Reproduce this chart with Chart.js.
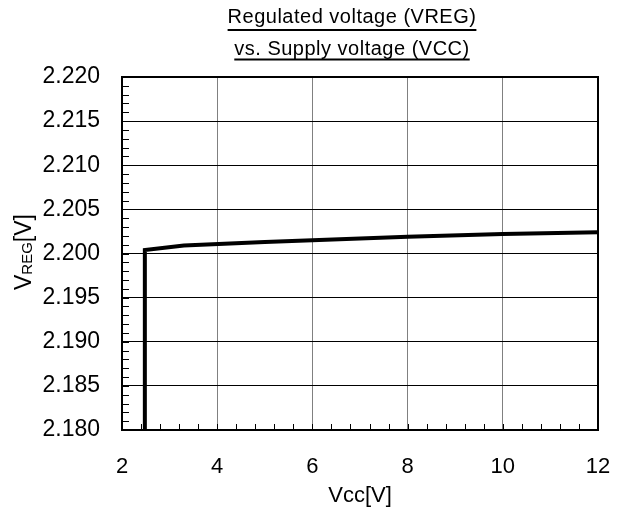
<!DOCTYPE html>
<html>
<head>
<meta charset="utf-8">
<script src="https://cdn.jsdelivr.net/npm/chart.js@4"></script>
<style>
    html, body { margin: 0; padding: 0; background: #fff; }
    #wrap { width: 628px; height: 508px; }
</style>
</head>
<body>
<div id="wrap"><canvas id="vregChart"></canvas></div>
<script>
// Supply voltage (V) and regulated voltage (V)
const vccValues = [2.48, 2.48, 3.3, 5.0, 8.0, 10.0, 12.0];
const vregValues = [2.175, 2.2004, 2.2009, 2.2013, 2.2019, 2.2022, 2.2024];

const titleLines = ['Regulated voltage (VREG)', 'vs. Supply voltage (VCC)'];
const xTitle = 'Vcc[V]';

const FONT = '"Liberation Sans", Arial, sans-serif';

// Draws the frame, underlined title, axis titles and the inside minor ticks
const decorPlugin = {
    id: 'decor',
    afterDraw(chart) {
        const c = chart.ctx;
        const area = chart.chartArea;
        const xs = chart.scales.x;
        const ys = chart.scales.y;
        const mid = (area.left + area.right) / 2;

        c.save();
        c.fillStyle = '#000';
        c.strokeStyle = '#000';

        // plot frame
        c.lineWidth = 2;
        c.strokeRect(area.left, area.top, area.right - area.left, area.bottom - area.top);

        // title, underlined
        const titleX = 352;
        const baselines = [23, 55];
        const underlines = [30, 59.5];
        c.font = '20px ' + FONT;
        c.letterSpacing = '0.5px';
        c.textAlign = 'center';
        c.textBaseline = 'alphabetic';
        titleLines.forEach((t, i) => {
            c.fillText(t, titleX, baselines[i]);
            const w = c.measureText(t).width;
            c.lineWidth = 2;
            c.beginPath();
            c.moveTo(titleX - w / 2, underlines[i]);
            c.lineTo(titleX + w / 2, underlines[i]);
            c.stroke();
        });
        c.letterSpacing = '0px';

        // x axis title
        c.font = '22px ' + FONT;
        c.fillText(xTitle, mid, 502);

        // y axis title with subscript
        c.translate(31, 252);
        c.rotate(-Math.PI / 2);
        const big = '23px ' + FONT, small = '15px ' + FONT;
        c.font = big; const w1 = c.measureText('V').width; const w3 = c.measureText('[V]').width;
        c.font = small; const w2 = c.measureText('REG').width;
        let x0 = -(w1 + w2 + w3) / 2;
        c.textAlign = 'left';
        c.font = big; c.fillText('V', x0, 0);
        c.font = small; c.fillText('REG', x0 + w1, 1);
        c.font = big; c.fillText('[V]', x0 + w1 + w2, 0);
        c.setTransform(1, 0, 0, 1, 0, 0);

        // minor ticks inside the plot
        c.lineWidth = 1;
        c.beginPath();
        for (let v = 2; v <= 12.0001; v += 0.4) {
            const px = Math.round(xs.getPixelForValue(v)) + 0.5;
            c.moveTo(px, area.bottom);
            c.lineTo(px, area.bottom - 6);
        }
        for (let v = 2.18; v <= 2.2201; v += 0.001) {
            const py = Math.round(ys.getPixelForValue(v)) + 0.5;
            c.moveTo(area.left, py);
            c.lineTo(area.left + 7, py);
        }
        c.stroke();
        c.restore();
    }
};

const ctx = document.getElementById('vregChart').getContext('2d');

const vregChart = new Chart(ctx, {
    type: 'line',
    data: {
        datasets: [{
            data: vccValues.map((v, i) => ({ x: v, y: vregValues[i] })),
            borderColor: '#000',
            borderWidth: 4,
            pointRadius: 0,
            tension: 0,
            fill: false
        }]
    },
    options: {
        responsive: true,
        maintainAspectRatio: false,
        animation: false,
        layout: { padding: { left: 0, right: 30, top: 77, bottom: 0 } },
        plugins: {
            legend: { display: false },
            tooltip: { enabled: false }
        },
        scales: {
            x: {
                type: 'linear',
                min: 2,
                max: 12,
                afterFit(scale) {
                    scale.height = 78;
                    scale.paddingLeft = 0;
                    scale.paddingRight = 0;
                },
                grid: { color: '#808080', lineWidth: 1, drawTicks: false },
                border: { color: '#000', width: 2 },
                ticks: {
                    stepSize: 2,
                    padding: 24,
                    color: '#000',
                    font: { family: FONT, size: 22 }
                }
            },
            y: {
                min: 2.18,
                max: 2.22,
                afterFit(scale) {
                    scale.width = 122;
                    scale.paddingTop = 0;
                    scale.paddingBottom = 0;
                },
                grid: { color: '#000', lineWidth: 1, drawTicks: false },
                border: { color: '#000', width: 2 },
                ticks: {
                    stepSize: 0.005,
                    padding: 22,
                    color: '#000',
                    font: { family: FONT, size: 23 },
                    callback: (v) => v.toFixed(3)
                }
            }
        }
    },
    plugins: [decorPlugin]
});
</script>
</body>
</html>
